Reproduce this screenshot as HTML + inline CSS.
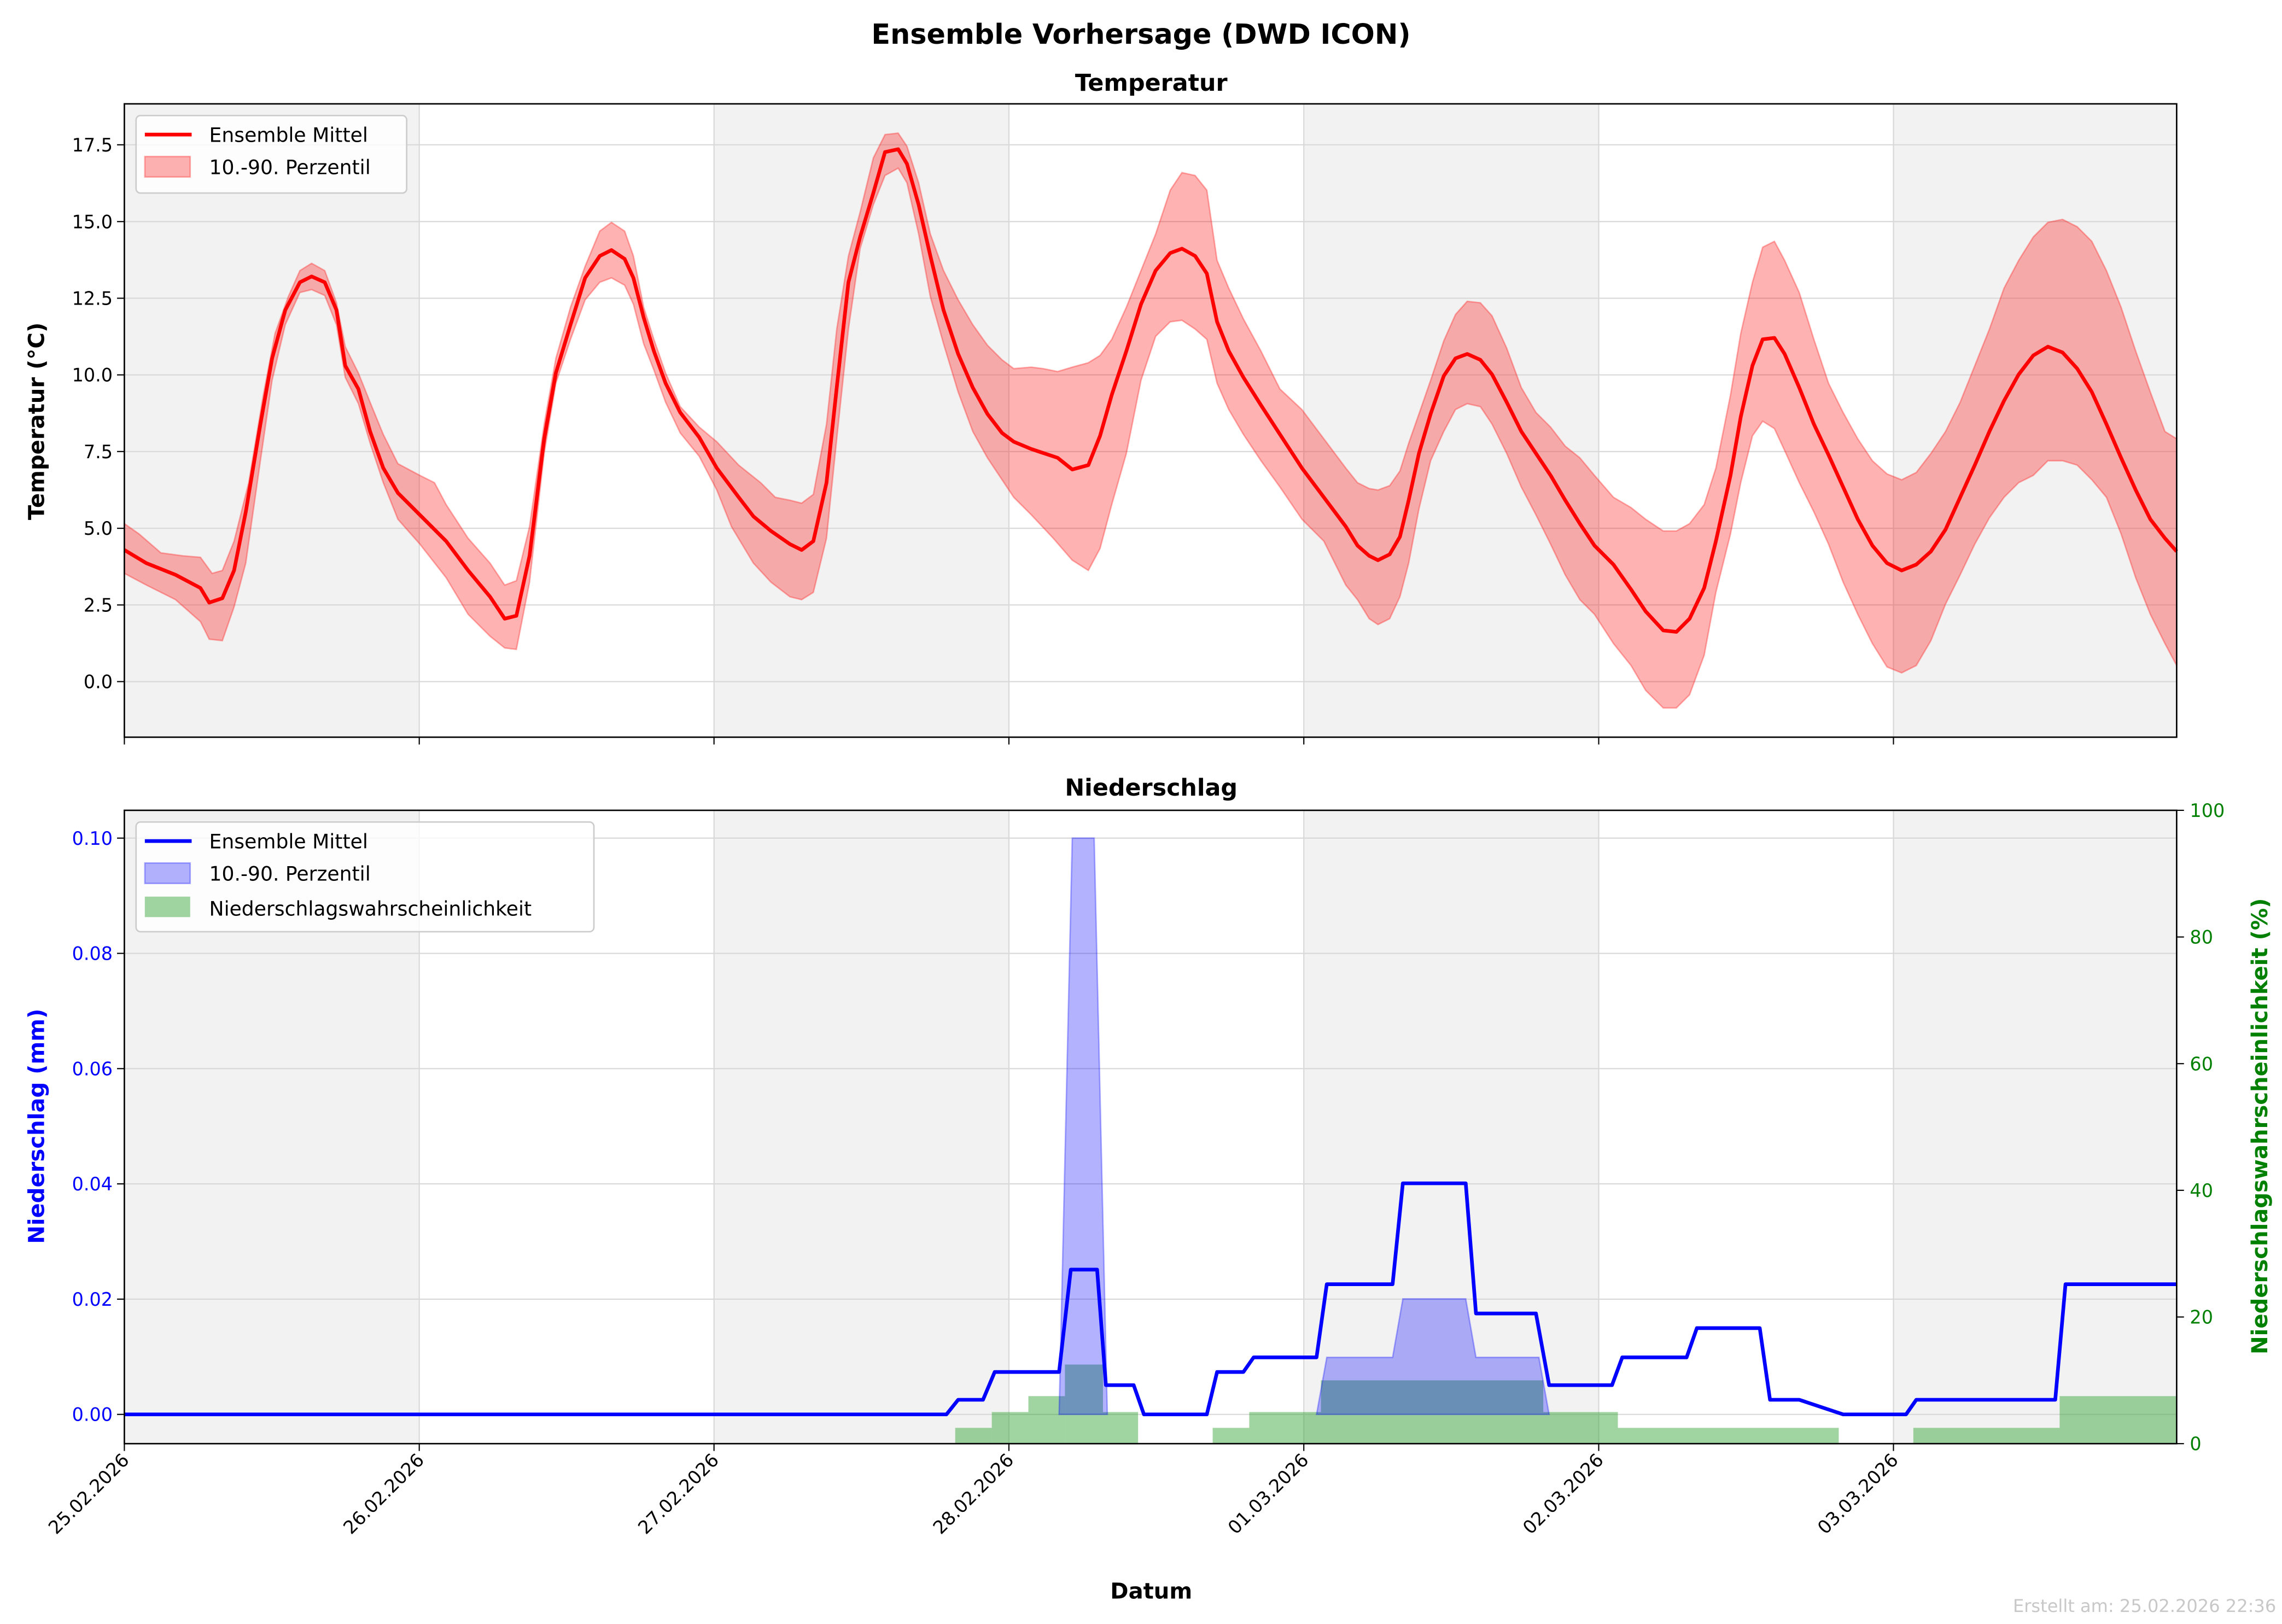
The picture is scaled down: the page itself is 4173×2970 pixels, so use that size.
<!DOCTYPE html>
<html><head><meta charset="utf-8"><style>
html,body{margin:0;padding:0;background:#fff}
svg{display:block}
text{font-family:"DejaVu Sans","Liberation Sans",sans-serif}
</style></head><body>
<svg width="4173" height="2970" viewBox="0 0 1560 1110.3" xmlns="http://www.w3.org/2000/svg">
<rect width="1560" height="1111" fill="#fff"/>
<text x="780" y="30" font-size="19" font-weight="bold" text-anchor="middle">Ensemble Vorhersage (DWD ICON)</text>
<text x="787" y="62" font-size="16" font-weight="bold" text-anchor="middle">Temperatur</text>
<text x="787" y="544" font-size="16" font-weight="bold" text-anchor="middle">Niederschlag</text>
<g fill="#f2f2f2">
<rect x="85" y="71" width="201.6" height="433"/><rect x="488.1" y="71" width="201.6" height="433"/>
<rect x="891.3" y="71" width="201.6" height="433"/><rect x="1294.4" y="71" width="193.6" height="433"/>
<rect x="85" y="554" width="201.6" height="433"/><rect x="488.1" y="554" width="201.6" height="433"/>
<rect x="891.3" y="554" width="201.6" height="433"/><rect x="1294.4" y="554" width="193.6" height="433"/>
</g>
<g stroke="#d8d8d8" stroke-width="0.8">
<line x1="286.6" y1="71" x2="286.6" y2="504"/><line x1="488.1" y1="71" x2="488.1" y2="504"/><line x1="689.7" y1="71" x2="689.7" y2="504"/><line x1="891.3" y1="71" x2="891.3" y2="504"/><line x1="1092.9" y1="71" x2="1092.9" y2="504"/><line x1="1294.4" y1="71" x2="1294.4" y2="504"/>
<line x1="286.6" y1="554" x2="286.6" y2="987"/><line x1="488.1" y1="554" x2="488.1" y2="987"/><line x1="689.7" y1="554" x2="689.7" y2="987"/><line x1="891.3" y1="554" x2="891.3" y2="987"/><line x1="1092.9" y1="554" x2="1092.9" y2="987"/><line x1="1294.4" y1="554" x2="1294.4" y2="987"/>
<line x1="85" y1="466" x2="1488" y2="466"/><line x1="85" y1="413.6" x2="1488" y2="413.6"/><line x1="85" y1="361.2" x2="1488" y2="361.2"/><line x1="85" y1="308.7" x2="1488" y2="308.7"/><line x1="85" y1="256.3" x2="1488" y2="256.3"/><line x1="85" y1="203.9" x2="1488" y2="203.9"/><line x1="85" y1="151.5" x2="1488" y2="151.5"/><line x1="85" y1="99" x2="1488" y2="99"/>
<line x1="85" y1="967" x2="1488" y2="967"/><line x1="85" y1="888.2" x2="1488" y2="888.2"/><line x1="85" y1="809.4" x2="1488" y2="809.4"/><line x1="85" y1="730.6" x2="1488" y2="730.6"/><line x1="85" y1="651.8" x2="1488" y2="651.8"/><line x1="85" y1="573" x2="1488" y2="573"/>
</g>
<!-- temperature -->
<polygon fill="#ff0000" fill-opacity="0.3" stroke="#ff0000" stroke-opacity="0.3" stroke-width="1" points="85,358 95,365 110,378 125,380 137,381 145,392 152,390 160,370 170,330 180,270 188,228 197,203 205,185 213,180 222,185 230,207 236,237 245,255 253,275 262,297 272,317 287,325 297,330 305,345 320,368 335,385 345,400 353,397 362,360 372,290 380,245 390,210 400,182 410,158 418,152 427,158 433,175 440,210 447,232 455,255 465,278 478,292 490,302 505,318 520,330 530,340 540,342 548,344 556,338 565,290 572,225 580,175 588,145 597,108 605,92 614,91 620,100 628,125 636,160 645,185 655,205 665,222 675,236 685,246 693,252 705,251 713,252 723,254 733,251 744,248 752,243 760,232 770,210 780,185 790,160 800,130 808,118 817,120 825,130 832,178 840,197 850,218 862,240 875,266 890,280 905,300 920,320 928,330 936,334 942,335 950,332 957,322 963,303 970,283 978,260 987,233 995,215 1003,206 1012,207 1020,216 1030,238 1040,265 1050,282 1060,292 1070,305 1080,313 1090,325 1103,340 1115,347 1125,355 1137,363 1146,363 1155,358 1165,345 1173,320 1183,270 1190,228 1198,193 1205,169 1213,165 1220,178 1230,200 1240,232 1250,262 1260,282 1270,300 1280,315 1290,324 1300,328 1310,323 1320,310 1330,295 1340,275 1350,250 1360,225 1370,197 1380,178 1390,162 1400,152 1410,150 1420,155 1430,165 1440,185 1450,210 1460,240 1470,268 1480,295 1488,300 1488,455 1480,440 1470,420 1460,395 1450,365 1440,340 1430,328 1420,318 1410,315 1400,315 1390,325 1380,330 1370,340 1360,354 1350,372 1340,393 1330,413 1320,438 1310,455 1300,460 1290,456 1280,440 1270,420 1260,398 1250,372 1240,350 1230,330 1220,308 1213,293 1205,288 1198,298 1190,330 1183,365 1173,405 1165,448 1155,475 1146,484 1137,484 1125,472 1115,455 1103,440 1090,420 1080,410 1070,393 1060,372 1050,352 1040,333 1030,310 1020,290 1012,278 1003,276 995,280 987,295 978,315 970,348 963,385 957,408 950,423 942,427 936,423 928,410 920,400 905,370 890,355 875,333 862,315 850,297 840,280 832,262 825,232 817,225 808,219 800,220 790,230 780,260 770,310 760,345 752,375 744,390 733,383 720,368 705,352 693,340 685,328 675,313 665,295 655,268 645,235 636,203 628,160 620,125 614,115 605,120 597,140 588,170 580,225 572,300 565,368 556,405 548,410 540,408 527,398 515,385 500,360 490,335 478,312 465,296 455,275 447,253 440,235 433,208 427,195 418,190 410,193 400,205 390,232 380,262 372,310 362,398 353,444 345,443 335,435 320,420 305,395 287,372 272,355 262,330 253,303 245,276 236,258 230,222 222,202 213,198 205,200 195,222 186,260 178,315 168,385 160,415 152,438 143,437 137,425 120,410 100,400 85,392"/>
<polyline fill="none" stroke="#ff0000" stroke-width="2.5" stroke-linejoin="round" points="85,376 100,385 120,393 137,402 143,412 152,409 160,390 168,350 178,290 186,245 195,212 205,193 213,189 222,193 230,212 236,250 245,266 253,295 262,320 272,337 287,352 305,370 320,390 335,408 345,423 353,421 362,380 372,300 380,255 390,222 400,190 410,175 418,171 427,177 433,190 440,217 447,240 455,262 465,282 478,299 490,320 505,340 515,353 527,363 540,372 548,376 556,370 565,330 572,265 580,193 588,162 597,132 605,104 614,102 620,112 628,140 636,175 645,212 655,242 665,265 675,283 685,296 693,302 705,307 723,313 733,321 744,318 752,298 760,270 770,240 780,208 790,185 800,173 808,170 817,175 825,187 832,220 840,240 850,258 862,277 875,297 890,320 905,340 920,360 928,373 936,380 942,383 950,379 957,367 963,342 970,310 978,283 987,257 995,245 1003,242 1012,246 1020,256 1030,275 1040,295 1050,310 1060,325 1070,342 1080,358 1090,373 1103,386 1115,403 1125,418 1137,431 1146,432 1155,423 1165,402 1173,370 1183,325 1190,285 1198,250 1205,232 1213,231 1220,242 1230,265 1240,290 1250,311 1260,333 1270,355 1280,373 1290,385 1300,390 1310,386 1320,377 1330,362 1340,340 1350,318 1360,295 1370,274 1380,256 1390,243 1400,237 1410,241 1420,252 1430,268 1440,290 1450,313 1460,335 1470,355 1480,368 1488,377"/>
<!-- precip bars -->
<g fill="#2ca02c" fill-opacity="0.45">
<rect x="653" y="976.2" width="25" height="10.8"/>
<rect x="678" y="965.4" width="25" height="21.6"/>
<rect x="703" y="954.5" width="25" height="32.5"/>
<rect x="728" y="932.9" width="26" height="54.1"/>
<rect x="754" y="965.4" width="24" height="21.6"/>
<rect x="829" y="976.2" width="25" height="10.8"/>
<rect x="854" y="965.4" width="49" height="21.6"/>
<rect x="903" y="943.7" width="152" height="43.3"/>
<rect x="1055" y="965.4" width="51" height="21.6"/>
<rect x="1106" y="976.2" width="151" height="10.8"/>
<rect x="1308" y="976.2" width="100" height="10.8"/>
<rect x="1408" y="954.5" width="80" height="32.5"/>
</g>
<polygon points="724,967 733,573 748,573 757,967" fill="#0000ff" fill-opacity="0.3" stroke="#0000ff" stroke-opacity="0.3"/>
<polygon points="900,967 907,928 952,928 959,888 1002,888 1009,928 1052,928 1059,967" fill="#0000ff" fill-opacity="0.3" stroke="#0000ff" stroke-opacity="0.3"/>
<polyline fill="none" stroke="#0000ff" stroke-width="2.5" stroke-linejoin="round" points="85,967 647,967 655,957 672,957 680,938 724,938 732,868 750,868 756,947 775,947 782,967 825,967 832,938 850,938 857,928 900,928 907,878 952,878 959,809 1002,809 1009,898 1050,898 1059,947 1102,947 1109,928 1153,928 1160,908 1203,908 1210,957 1230,957 1260,967 1303,967 1310,957 1405,957 1412,878 1488,878"/>
<rect x="85" y="71" width="1403" height="433" fill="none" stroke="#000" stroke-width="1"/>
<rect x="85" y="554" width="1403" height="433" fill="none" stroke="#000" stroke-width="1"/>
<!-- ticks -->
<g stroke="#000" stroke-width="0.8">
<line x1="85" y1="504" x2="85" y2="509"/><line x1="286.6" y1="504" x2="286.6" y2="509"/><line x1="488.1" y1="504" x2="488.1" y2="509"/><line x1="689.7" y1="504" x2="689.7" y2="509"/><line x1="891.3" y1="504" x2="891.3" y2="509"/><line x1="1092.9" y1="504" x2="1092.9" y2="509"/><line x1="1294.4" y1="504" x2="1294.4" y2="509"/>
<line x1="85" y1="987" x2="85" y2="992"/><line x1="286.6" y1="987" x2="286.6" y2="992"/><line x1="488.1" y1="987" x2="488.1" y2="992"/><line x1="689.7" y1="987" x2="689.7" y2="992"/><line x1="891.3" y1="987" x2="891.3" y2="992"/><line x1="1092.9" y1="987" x2="1092.9" y2="992"/><line x1="1294.4" y1="987" x2="1294.4" y2="992"/>
<line x1="80" y1="466" x2="85" y2="466"/><line x1="80" y1="413.6" x2="85" y2="413.6"/><line x1="80" y1="361.2" x2="85" y2="361.2"/><line x1="80" y1="308.7" x2="85" y2="308.7"/><line x1="80" y1="256.3" x2="85" y2="256.3"/><line x1="80" y1="203.9" x2="85" y2="203.9"/><line x1="80" y1="151.5" x2="85" y2="151.5"/><line x1="80" y1="99" x2="85" y2="99"/>
<line x1="80" y1="967" x2="85" y2="967"/><line x1="80" y1="888.2" x2="85" y2="888.2"/><line x1="80" y1="809.4" x2="85" y2="809.4"/><line x1="80" y1="730.6" x2="85" y2="730.6"/><line x1="80" y1="651.8" x2="85" y2="651.8"/><line x1="80" y1="573" x2="85" y2="573"/>
<line x1="1488" y1="987" x2="1493" y2="987"/><line x1="1488" y1="900.4" x2="1493" y2="900.4"/><line x1="1488" y1="813.8" x2="1493" y2="813.8"/><line x1="1488" y1="727.2" x2="1493" y2="727.2"/><line x1="1488" y1="640.6" x2="1493" y2="640.6"/><line x1="1488" y1="554" x2="1493" y2="554"/>
</g>
<g font-size="12.5" text-anchor="end">
<text x="77" y="470.5">0.0</text><text x="77" y="418.1">2.5</text><text x="77" y="365.7">5.0</text><text x="77" y="313.2">7.5</text><text x="77" y="260.8">10.0</text><text x="77" y="208.4">12.5</text><text x="77" y="156">15.0</text><text x="77" y="103.5">17.5</text>
<g fill="#0000ff"><text x="77" y="971.5">0.00</text><text x="77" y="892.7">0.02</text><text x="77" y="813.9">0.04</text><text x="77" y="735.1">0.06</text><text x="77" y="656.3">0.08</text><text x="77" y="577.5">0.10</text></g>
<text transform="translate(89,999) rotate(-45)">25.02.2026</text>
<text transform="translate(290.6,999) rotate(-45)">26.02.2026</text>
<text transform="translate(492.1,999) rotate(-45)">27.02.2026</text>
<text transform="translate(693.7,999) rotate(-45)">28.02.2026</text>
<text transform="translate(895.3,999) rotate(-45)">01.03.2026</text>
<text transform="translate(1096.9,999) rotate(-45)">02.03.2026</text>
<text transform="translate(1298.4,999) rotate(-45)">03.03.2026</text>
</g>
<g font-size="12.5" fill="#008000">
<text x="1497" y="991.5">0</text><text x="1497" y="904.9">20</text><text x="1497" y="818.3">40</text><text x="1497" y="731.7">60</text><text x="1497" y="645.1">80</text><text x="1497" y="558.5">100</text>
</g>
<text transform="translate(30,288) rotate(-90)" font-size="15" font-weight="bold" text-anchor="middle">Temperatur (°C)</text>
<text transform="translate(30,770) rotate(-90)" font-size="15" font-weight="bold" text-anchor="middle" fill="#0000ff">Niederschlag (mm)</text>
<text transform="translate(1550,770) rotate(-90)" font-size="15" font-weight="bold" text-anchor="middle" fill="#008000">Niederschlagswahrscheinlichkeit (%)</text>
<text x="787" y="1093" font-size="15" font-weight="bold" text-anchor="middle">Datum</text>
<text x="1556" y="1102" font-size="12" fill="#c8c8c8" text-anchor="end">Erstellt am: 25.02.2026 22:36</text>
<rect x="93" y="79" width="185" height="53" rx="3" fill="#fff" fill-opacity="0.8" stroke="#ccc"/>
<line x1="99" y1="92" x2="131" y2="92" stroke="#f00" stroke-width="2.5"/>
<text x="143" y="97" font-size="13.5">Ensemble Mittel</text>
<rect x="99" y="107" width="31" height="14" fill="#ff0000" fill-opacity="0.3" stroke="#ff0000" stroke-opacity="0.3"/>
<text x="143" y="119" font-size="13.5">10.-90. Perzentil</text>
<rect x="93" y="562" width="313" height="75" rx="3" fill="#fff" fill-opacity="0.8" stroke="#ccc"/>
<line x1="99" y1="575" x2="131" y2="575" stroke="#00f" stroke-width="2.5"/>
<text x="143" y="580" font-size="13.5">Ensemble Mittel</text>
<rect x="99" y="590" width="31" height="14" fill="#0000ff" fill-opacity="0.3" stroke="#0000ff" stroke-opacity="0.3"/>
<text x="143" y="602" font-size="13.5">10.-90. Perzentil</text>
<rect x="99" y="613" width="31" height="14" fill="#2ca02c" fill-opacity="0.45"/>
<text x="143" y="626" font-size="13.5">Niederschlagswahrscheinlichkeit</text>
</svg>
</body></html>
